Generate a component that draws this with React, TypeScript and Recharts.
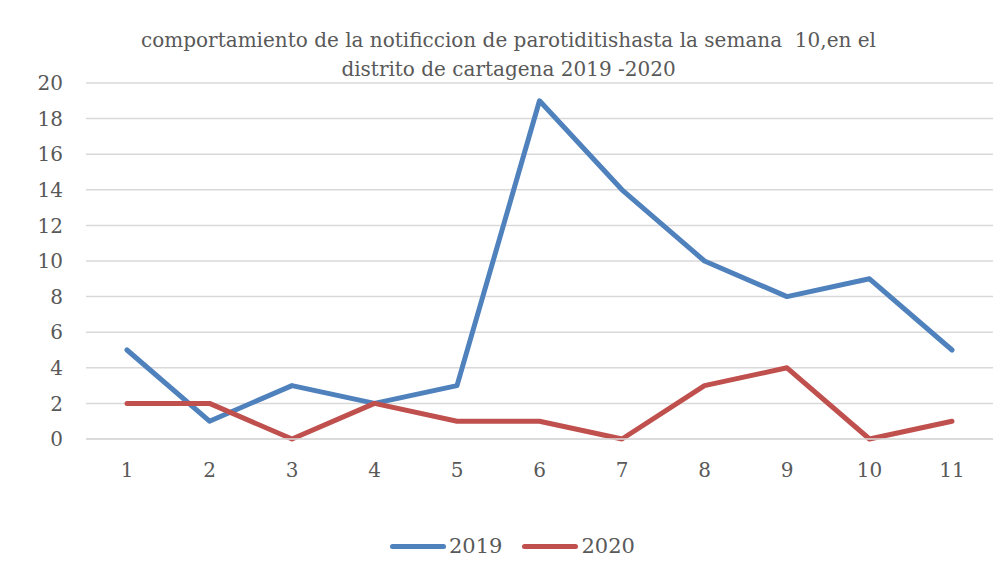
import { LineChart, Line, XAxis, YAxis, CartesianGrid } from 'recharts';

const weeks = ['1', '2', '3', '4', '5', '6', '7', '8', '9', '10', '11'];
const cases2019 = [5, 1, 3, 2, 3, 19, 14, 10, 8, 9, 5];
const cases2020 = [2, 2, 0, 2, 1, 1, 0, 3, 4, 0, 1];
const yTicks = [0, 2, 4, 6, 8, 10, 12, 14, 16, 18, 20];
const titleLines = [
  'comportamiento de la notificcion de parotiditishasta la semana  10,en el',
  'distrito de cartagena 2019 -2020',
];
const seriesNames = ['2019', '2020'];

const BLUE = '#4F81BD';
const RED = '#C0504D';
const FONT = 'DejaVu Serif';
const TEXT = '#595959';

const data = weeks.map((w, i) => ({ w, a: cases2019[i], b: cases2020[i] }));

const App = () => {
  return (
    <div
      style={{
        position: 'relative',
        width: 1001,
        height: 579,
        margin: -8,
        overflow: 'hidden',
        background: '#fff',
        fontFamily: FONT,
      }}
    >
      <div
        style={{
          position: 'absolute',
          left: 6,
          top: 5,
          width: 1100,
          height: 700,
          border: '2px solid #d9d9d9',
        }}
      />
      <div
        style={{
          position: 'absolute',
          left: 0,
          width: 1017,
          top: 26,
          textAlign: 'center',
          fontSize: 20,
          lineHeight: '29px',
          color: TEXT,
          whiteSpace: 'pre',
        }}
      >
        {titleLines[0]}
        <br />
        {titleLines[1]}
      </div>
      <div style={{ position: 'absolute', left: 0, top: 0 }}>
        <LineChart
          width={1001}
          height={579}
          data={data}
          margin={{ top: 83, right: 8, bottom: 110, left: 0 }}
        >
          <CartesianGrid vertical={false} stroke="#d9d9d9" strokeWidth={1.5} />
          <XAxis
            dataKey="w"
            padding={{ left: 41, right: 41 }}
            height={30}
            axisLine={{ stroke: '#d9d9d9', strokeWidth: 1.5 }}
            tickLine={false}
            tickMargin={18}
            tick={{ fill: TEXT, fontSize: 20, fontFamily: FONT }}
          />
          <YAxis
            domain={[0, 20]}
            ticks={yTicks}
            width={86}
            axisLine={false}
            tickLine={false}
            tickSize={0}
            tickMargin={23}
            tick={{ fill: TEXT, fontSize: 20, fontFamily: FONT }}
          />
          <Line
            type="linear"
            dataKey="a"
            name={seriesNames[0]}
            stroke={BLUE}
            strokeWidth={5}
            strokeLinejoin="round"
            strokeLinecap="round"
            dot={false}
            isAnimationActive={false}
          />
          <Line
            type="linear"
            dataKey="b"
            name={seriesNames[1]}
            stroke={RED}
            strokeWidth={5}
            strokeLinejoin="round"
            strokeLinecap="round"
            dot={false}
            isAnimationActive={false}
          />
        </LineChart>
      </div>
      <div
        style={{
          position: 'absolute',
          left: 390,
          top: 531,
          display: 'flex',
          alignItems: 'center',
          fontSize: 21,
          color: TEXT,
        }}
      >
        {seriesNames.map((name, i) => (
          <div key={name} style={{ display: 'flex', alignItems: 'center', marginRight: i === 0 ? 20 : 0 }}>
            <div
              style={{
                width: 56,
                height: 5,
                borderRadius: 3,
                background: i === 0 ? BLUE : RED,
                marginRight: 3,
              }}
            />
            <span style={{ lineHeight: '30px' }}>{name}</span>
          </div>
        ))}
      </div>
    </div>
  );
};

export default App;
